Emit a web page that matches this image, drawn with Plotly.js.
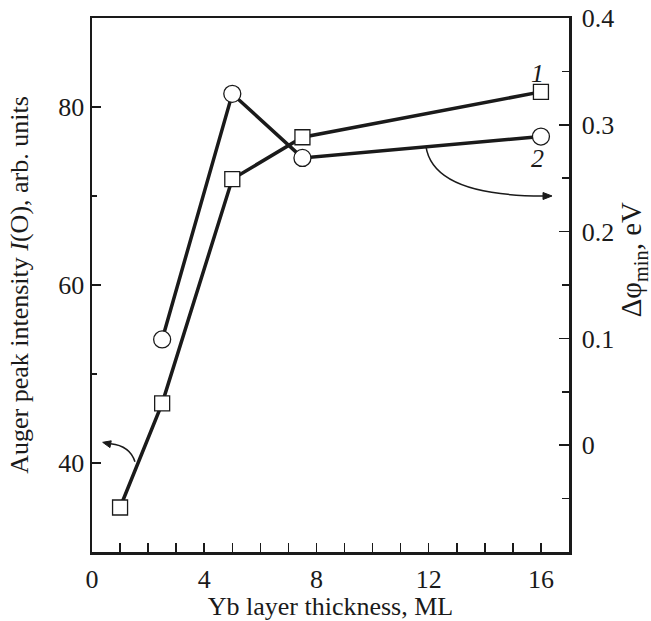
<!DOCTYPE html>
<html><head><meta charset="utf-8">
<script src="https://cdn.plot.ly/plotly-3.0.1.min.js"></script>
<style>html,body{margin:0;padding:0;background:#fff}</style>
</head><body><div id="chart" style="width:651px;height:621px"></div>
<script>
// Data
const thickness = [1, 2.5, 5, 7.5, 16];
const augerIntensity = [35.0, 46.7, 71.9, 76.6, 81.7];   // curve 1, left axis
const thicknessPhi = [2.5, 5, 7.5, 16];
const deltaPhi = [0.099, 0.329, 0.269, 0.289];            // curve 2, right axis
const xTickVals = [0, 4, 8, 12, 16];
const yTickVals = [40, 60, 80];
const y2TickVals = [0, 0.1, 0.2, 0.3, 0.4];

const ink = '#1a1a1a';
const fam = '"Liberation Serif", "Times New Roman", serif';
const font = {family: fam, size: 26, color: ink};

const traces = [
  {x: thickness, y: augerIntensity, mode: 'lines+markers', yaxis: 'y',
   line: {color: ink, width: 3.5},
   marker: {symbol: 'square', size: 15, color: '#fff', line: {color: ink, width: 1.3}},
   hoverinfo: 'skip'},
  {x: thicknessPhi, y: deltaPhi, mode: 'lines+markers', yaxis: 'y2',
   line: {color: ink, width: 3.5},
   marker: {symbol: 'circle', size: 17, color: '#fff', line: {color: ink, width: 1.3}},
   hoverinfo: 'skip'}
];

const layout = {
  width: 651, height: 621,
  margin: {l: 92, r: 82, t: 18, b: 69},
  paper_bgcolor: '#fff', plot_bgcolor: '#fff',
  font: font,
  showlegend: false,
  xaxis: {
    range: [0, 17], tickvals: xTickVals, ticks: 'inside', ticklen: 9, tickwidth: 1.5, tickcolor: ink,
    minor: {dtick: 1, ticks: 'inside', ticklen: 9, tickwidth: 1.5, tickcolor: ink},
    showline: true, linewidth: 2.5, linecolor: ink, mirror: true, showgrid: false, zeroline: false,
    ticklabelstandoff: 2,
    title: {text: 'Yb layer thickness, ML', font: font, standoff: 1}
  },
  yaxis: {
    range: [30, 90], tickvals: yTickVals, ticks: 'inside', ticklen: 9, tickwidth: 1.5, tickcolor: ink,
    minor: {dtick: 10, ticks: 'inside', ticklen: 5, tickwidth: 1.5, tickcolor: ink},
    showline: true, linewidth: 2.5, linecolor: ink, showgrid: false, zeroline: false,
    ticklabelstandoff: 0,
    title: {text: 'Auger peak intensity <i>I</i>(O), arb. units', font: font, standoff: 22}
  },
  yaxis2: {
    range: [-0.1, 0.4], overlaying: 'y', side: 'right', tickvals: y2TickVals,
    ticks: 'inside', ticklen: 10, tickwidth: 1.5, tickcolor: ink,
    minor: {dtick: 0.05, ticks: 'inside', ticklen: 7, tickwidth: 1.5, tickcolor: ink},
    showline: true, linewidth: 2.5, linecolor: ink, showgrid: false, zeroline: false,
    ticklabelstandoff: 5
  },
  shapes: [
    // curved pointer arrows (shafts)
    {type: 'path', xref: 'paper', yref: 'paper',
     path: 'M 0.0901 0.1691 Q 0.0797 0.199 0.039 0.2029', line: {color: ink, width: 1.5}},
    {type: 'path', xref: 'paper', yref: 'paper',
     path: 'M 0.700 0.760 Q 0.715 0.667 0.9455 0.6667', line: {color: ink, width: 1.5}},
    // arrowheads
    {type: 'path', xref: 'paper', yref: 'paper',
     path: 'M 0.0224 0.2054 L 0.0403 0.2082 L 0.0377 0.1955 Z', fillcolor: ink, line: {color: ink, width: 1}},
    {type: 'path', xref: 'paper', yref: 'paper',
     path: 'M 0.9644 0.6667 L 0.9455 0.6732 L 0.9455 0.6601 Z', fillcolor: ink, line: {color: ink, width: 1}}
  ],
  annotations: [
    {xref: 'x', yref: 'y', x: 15.87, y: 83.8, text: '<i>1</i>', showarrow: false, font: font},
    {xref: 'x', yref: 'y', x: 15.87, y: 74.2, text: '<i>2</i>', showarrow: false, font: font},
    // right-axis title
    {xref: 'paper', yref: 'paper', x: 1.135, y: 0.547, xanchor: 'center', yanchor: 'middle',
     textangle: -90, showarrow: false, text: 'Δφ<sub>min</sub>, eV',
     font: {family: fam, size: 29, color: ink}}
  ]
};

Plotly.newPlot('chart', traces, layout, {staticPlot: true, displayModeBar: false});
</script></body></html>
